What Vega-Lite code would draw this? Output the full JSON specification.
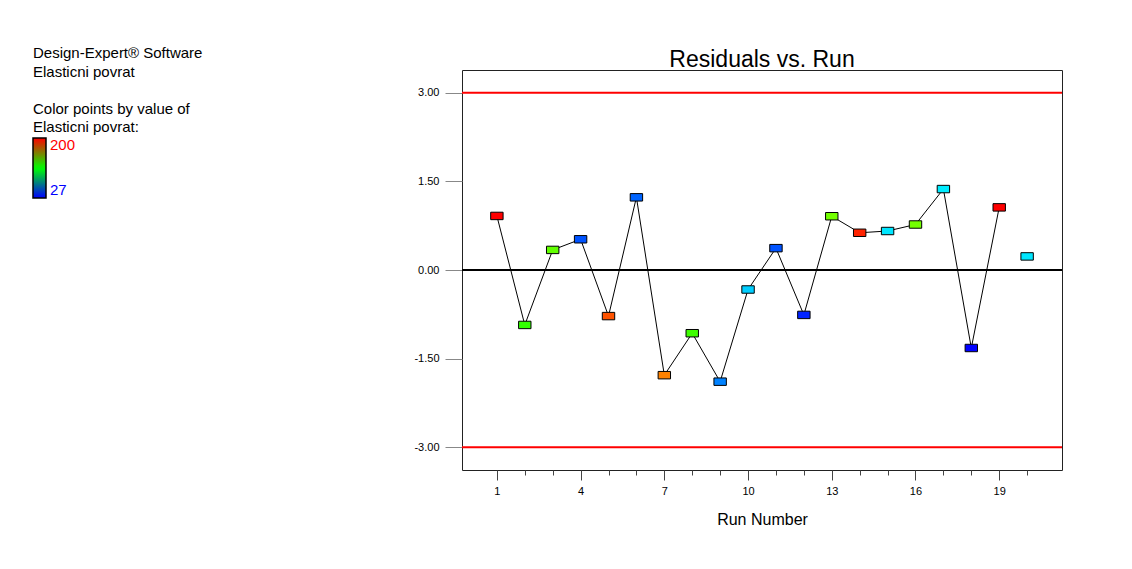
{
  "$schema": "https://vega.github.io/schema/vega-lite/v6.json",
  "width": 600,
  "height": 400,
  "autosize": {"type": "none"},
  "padding": {"left": 462, "top": 70, "right": 70, "bottom": 99},
  "background": "white",
  "config": {
    "view": {"stroke": "#222222", "strokeWidth": 1},
    "font": "Liberation Sans"
  },
  "title": {
    "text": "Residuals vs. Run",
    "fontSize": 23,
    "fontWeight": "normal",
    "font": "Liberation Sans",
    "color": "black",
    "offset": 4,
    "dy": 30,
    "anchor": "middle"
  },
  "data": {
    "values": [
      {"run": 1, "residual": 0.915, "elasticni": 200},
      {"run": 2, "residual": -0.93, "elasticni": 122},
      {"run": 3, "residual": 0.34, "elasticni": 130},
      {"run": 4, "residual": 0.52, "elasticni": 41},
      {"run": 5, "residual": -0.78, "elasticni": 186},
      {"run": 6, "residual": 1.23, "elasticni": 44},
      {"run": 7, "residual": -1.78, "elasticni": 178},
      {"run": 8, "residual": -1.07, "elasticni": 124},
      {"run": 9, "residual": -1.89, "elasticni": 49},
      {"run": 10, "residual": -0.33, "elasticni": 62},
      {"run": 11, "residual": 0.37, "elasticni": 41},
      {"run": 12, "residual": -0.76, "elasticni": 33},
      {"run": 13, "residual": 0.91, "elasticni": 133},
      {"run": 14, "residual": 0.63, "elasticni": 194},
      {"run": 15, "residual": 0.66, "elasticni": 66},
      {"run": 16, "residual": 0.77, "elasticni": 133},
      {"run": 17, "residual": 1.37, "elasticni": 67},
      {"run": 18, "residual": -1.32, "elasticni": 27},
      {"run": 19, "residual": 1.06, "elasticni": 200},
      {"run": 20, "residual": 0.23, "elasticni": 66}
    ]
  },
  "encoding": {
    "y": {
      "field": "residual",
      "type": "quantitative",
      "scale": {"domain": [-3.385, 3.385], "nice": false, "zero": false},
      "axis": {
        "title": null,
        "values": [-3, -1.5, 0, 1.5, 3],
        "format": ".2f",
        "labelExpr": "replace(datum.label, '\u2212', '-')",
        "labelFontSize": 11,
        "labelColor": "black",
        "labelPadding": 6,
        "tickSize": 17,
        "tickColor": "#888888",
        "domain": false,
        "grid": false
      }
    }
  },
  "layer": [
    {
      "data": {"values": [{"residual": 3}, {"residual": -3}]},
      "mark": {"type": "rule", "color": "#ff0000", "strokeWidth": 2}
    },
    {
      "data": {"values": [{"residual": 0}]},
      "mark": {"type": "rule", "color": "#000000", "strokeWidth": 2}
    },
    {
      "transform": [{"filter": "datum.run <= 19"}],
      "mark": {"type": "line", "color": "#000000", "strokeWidth": 1},
      "encoding": {
        "x": {
          "field": "run",
          "type": "quantitative",
          "scale": {"domain": [-0.25, 21.25], "nice": false, "zero": false},
          "axis": {
            "title": "Run Number",
            "titleFontSize": 16,
            "titleFontWeight": "normal",
            "titleColor": "black",
            "titlePadding": 15,
            "values": [1, 2, 3, 4, 5, 6, 7, 8, 9, 10, 11, 12, 13, 14, 15, 16, 17, 18, 19, 20],
            "format": "d",
            "labelExpr": "((datum.value - 1) % 3 == 0) ? datum.label : ''",
            "labelFontSize": 11,
            "labelColor": "black",
            "labelPadding": 5,
            "labelOverlap": false,
            "labelFlush": false,
            "tickColor": "#444444",
            "tickSize": {"condition": {"test": "(datum.value - 1) % 3 == 0", "value": 10}, "value": 5},
            "domain": false,
            "grid": false
          }
        }
      }
    },
    {
      "mark": {
        "type": "point",
        "shape": "M-1,-0.6H1V0.6H-1Z",
        "filled": true,
        "size": 154,
        "stroke": "#000000",
        "strokeWidth": 1,
        "opacity": 1
      },
      "encoding": {
        "x": {
          "field": "run",
          "type": "quantitative",
          "scale": {"domain": [-0.25, 21.25], "nice": false, "zero": false},
          "axis": {
            "title": "Run Number",
            "titleFontSize": 16,
            "titleFontWeight": "normal",
            "titleColor": "black",
            "titlePadding": 15,
            "values": [1, 2, 3, 4, 5, 6, 7, 8, 9, 10, 11, 12, 13, 14, 15, 16, 17, 18, 19, 20],
            "format": "d",
            "labelExpr": "((datum.value - 1) % 3 == 0) ? datum.label : ''",
            "labelFontSize": 11,
            "labelColor": "black",
            "labelPadding": 5,
            "labelOverlap": false,
            "labelFlush": false,
            "tickColor": "#444444",
            "tickSize": {"condition": {"test": "(datum.value - 1) % 3 == 0", "value": 10}, "value": 5},
            "domain": false,
            "grid": false
          }
        },
        "fill": {
          "field": "elasticni",
          "type": "quantitative",
          "scale": {
            "domain": [27, 70.25, 113.5, 156.75, 200],
            "range": ["#0000ff", "#00ffff", "#00ff00", "#ffff00", "#ff0000"],
            "interpolate": "rgb"
          },
          "legend": null
        }
      }
    },
    {
      "mark": {"type": "point", "size": 0, "strokeWidth": 0, "opacity": 1},
      "encoding": {
        "x": {
          "field": "run",
          "type": "quantitative",
          "scale": {"domain": [-0.25, 21.25], "nice": false, "zero": false},
          "axis": {
            "title": "Run Number",
            "titleFontSize": 16,
            "titleFontWeight": "normal",
            "titleColor": "black",
            "titlePadding": 15,
            "values": [1, 2, 3, 4, 5, 6, 7, 8, 9, 10, 11, 12, 13, 14, 15, 16, 17, 18, 19, 20],
            "format": "d",
            "labelExpr": "((datum.value - 1) % 3 == 0) ? datum.label : ''",
            "labelFontSize": 11,
            "labelColor": "black",
            "labelPadding": 5,
            "labelOverlap": false,
            "labelFlush": false,
            "tickColor": "#444444",
            "tickSize": {"condition": {"test": "(datum.value - 1) % 3 == 0", "value": 10}, "value": 5},
            "domain": false,
            "grid": false
          }
        },
        "color": {
          "field": "elasticni",
          "type": "quantitative",
          "scale": {
            "domain": [27, 113.5, 200],
            "range": ["#0000ff", "#00ff00", "#ff0000"],
            "interpolate": "rgb"
          },
          "legend": {
            "type": "gradient",
            "direction": "vertical",
            "orient": "none",
            "legendX": -429,
            "legendY": -24,
            "padding": 0,
            "title": ["Design-Expert® Software", "Elasticni povrat", "\u2800", "Color points by value of", "Elasticni povrat:"],
            "titleFont": "Liberation Sans",
            "titleFontSize": 15,
            "titleFontWeight": "normal",
            "titleColor": "black",
            "titleLineHeight": 18.5,
            "titlePadding": 3,
            "titleAnchor": "start",
            "gradientLength": 60,
            "gradientThickness": 13,
            "gradientStrokeColor": "#000000",
            "gradientStrokeWidth": 1.5,
            "values": [27, 200],
            "labelFontSize": 15,
            "labelFont": "Liberation Sans",
            "labelColor": {"expr": "datum.value > 100 ? '#ff0000' : '#0000ff'"},
            "labelOffset": 4,
            "labelOverlap": false
          }
        }
      }
    }
  ]
}
